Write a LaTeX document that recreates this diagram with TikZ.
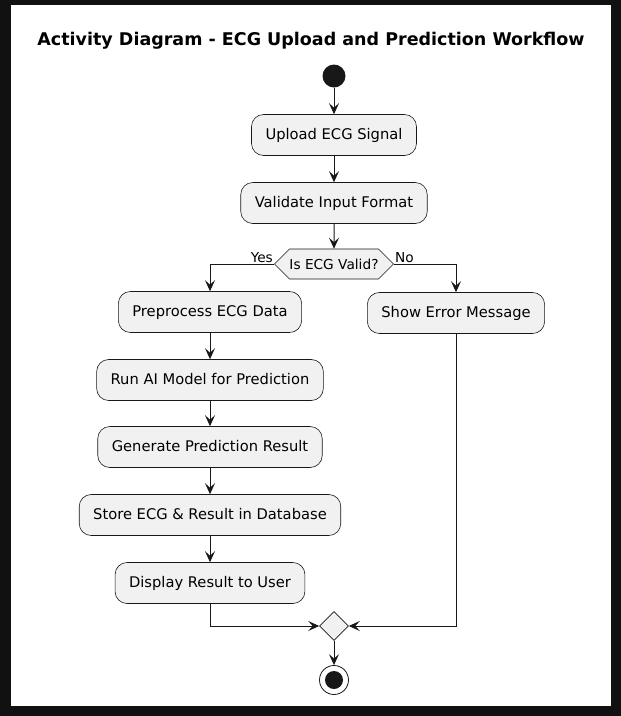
\documentclass[tikz,border=0pt]{standalone}
\usepackage{fontspec}
\setmainfont{DejaVu Sans}
\usetikzlibrary{arrows.meta,shapes.geometric,shapes.symbols}
\definecolor{actfill}{HTML}{F1F1F1}
\definecolor{actline}{HTML}{181818}
\definecolor{framebg}{HTML}{111111}

\begin{document}
\begin{tikzpicture}[x=1pt, y=-1pt,
        actnode/.style = {rectangle, rounded corners=12pt, draw=actline, line width=0.6pt, fill=actfill,
                minimum height=41pt, inner xsep=14pt, text height=11pt, text depth=3pt,
                font=\fontsize{14.7}{17}\selectfont},
        ifnode/.style = {signal, signal to=east and west, signal from=nowhere, draw=actline, line width=0.6pt,
                fill=actfill, minimum height=30pt, inner xsep=0pt, font=\fontsize{13.7}{16}\selectfont},
        mergenode/.style = {diamond, draw=actline, line width=0.6pt, fill=actfill, minimum size=29pt, inner sep=0pt},
        flow/.style = {draw=actline, line width=1pt, -{Stealth[length=11pt, width=10pt, inset=4.5pt]}},
        branchlabel/.style = {font=\fontsize{13.7}{16}\selectfont, inner sep=1pt}
    ]
    % frame
    \fill[framebg] (0,0) rectangle (621,716);
    \fill[white] (11,5) rectangle (611,706);
    \useasboundingbox (0,0) rectangle (621,716);

    \node[font=\fontsize{17.5}{21}\selectfont\bfseries] (title) at (311,41) {Activity Diagram - ECG Upload and Prediction Workflow};

    \node[circle, fill=actline, minimum size=23pt, inner sep=0pt] (start) at (334,76) {};
    \node[actnode] (upload) at (334,135) {Upload ECG Signal};
    \node[actnode] (validate) at (334,203) {Validate Input Format};
    \node[ifnode] (valid) at (334,264) {Is ECG Valid?};

    % yes branch
    \node[actnode] (preprocess) at (210,312) {Preprocess ECG Data};
    \node[actnode] (runmodel) at (210,380) {Run AI Model for Prediction};
    \node[actnode] (generate) at (210,447) {Generate Prediction Result};
    \node[actnode] (store) at (210,515) {Store ECG \& Result in Database};
    \node[actnode] (display) at (210,583) {Display Result to User};

    % no branch
    \node[actnode] (showerror) at (456,313) {Show Error Message};

    \node[mergenode] (merge) at (334,626) {};
    \node[circle, draw=actline, line width=0.8pt, fill=white, minimum size=29pt, inner sep=0pt] (stop) at (334,680) {};
    \fill[actline] (stop.center) circle (9pt);

    \draw[flow] (start) -- (upload);
    \draw[flow] (upload) -- (validate);
    \draw[flow] (validate) -- (valid);
    \draw[flow] (valid.west) -| (preprocess.north);
    \draw[flow] (valid.east) -| (showerror.north);
    \node[branchlabel, anchor=south east] (yes) at (valid.west) {Yes};
    \node[branchlabel, anchor=south west] (no) at (valid.east) {No};
    \draw[flow] (preprocess) -- (runmodel);
    \draw[flow] (runmodel) -- (generate);
    \draw[flow] (generate) -- (store);
    \draw[flow] (store) -- (display);
    \draw[flow] (display.south) |- (merge.west);
    \draw[flow] (showerror.south) |- (merge.east);
    \draw[flow] (merge) -- (stop);
\end{tikzpicture}
\end{document}
